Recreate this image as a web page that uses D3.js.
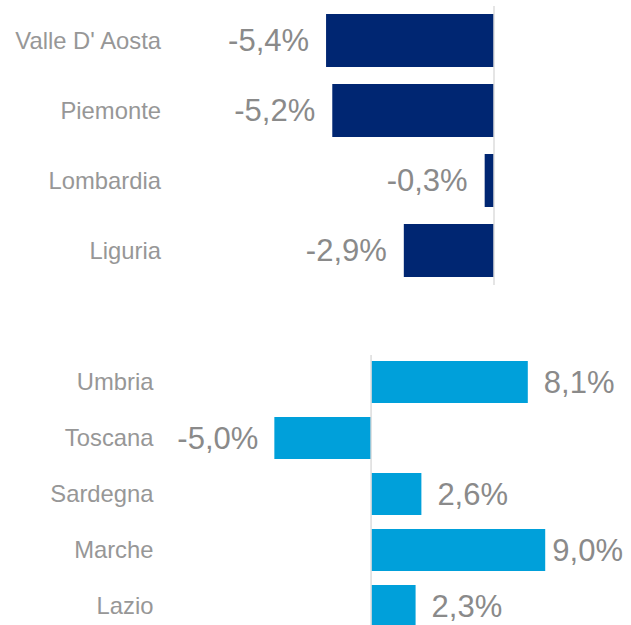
<!DOCTYPE html>
<html>
<head>
<meta charset="utf-8">
<script src="https://cdn.jsdelivr.net/npm/d3@7"></script>
<style>
  html, body { margin: 0; padding: 0; background: #fff; }
  svg { display: block; }
</style>
</head>
<body>
<div id="chart"></div>
<script>
// North-west regions (top panel)
const topRegions = ["Valle D' Aosta", 'Piemonte', 'Lombardia', 'Liguria'];
const topValues = [-5.4, -5.2, -0.3, -2.9];

// Centre regions (bottom panel)
const bottomRegions = ['Umbria', 'Toscana', 'Sardegna', 'Marche', 'Lazio'];
const bottomValues = [8.1, -5.0, 2.6, 9.0, 2.3];

const fmt = v => v.toFixed(1).replace('.', ',') + '%';

function renderChart() {
  const width = 631, height = 625;
  const font = '"Liberation Sans", Arial, sans-serif';
  const catColor = '#979797';
  const valColor = '#8a8a8a';
  const axisColor = '#dcdcdc';

  const svg = d3.select('#chart').append('svg')
    .attr('width', width)
    .attr('height', height);

  const panels = [
    {
      cats: topRegions, vals: topValues, color: '#002672',
      x: d3.scaleLinear().domain([-6, 0]).range([307.4, 494]),
      y: d3.scaleBand().domain(topRegions).range([5.5, 285.5]).paddingInner(0.243).paddingOuter(0.1215),
      labelRight: 161, axisTop: 6, axisBottom: 285, gap: 17
    },
    {
      cats: bottomRegions, vals: bottomValues, color: '#00a0da',
      x: d3.scaleLinear().domain([-6, 13]).range([255, 622.6]),
      y: d3.scaleBand().domain(bottomRegions).range([354, 634]).paddingInner(0.25).paddingOuter(0.125),
      labelRight: 153.5, axisTop: 355, axisBottom: 625, gap: 16
    }
  ];

  panels.forEach(p => {
    const g = svg.append('g');
    const x0 = p.x(0);

    p.cats.forEach((c, i) => {
      const v = p.vals[i];
      const yTop = p.y(c);
      const bh = p.y.bandwidth();
      const cy = yTop + bh / 2;

      g.append('rect')
        .attr('x', Math.min(p.x(v), x0))
        .attr('y', yTop)
        .attr('width', Math.abs(p.x(v) - x0))
        .attr('height', bh)
        .attr('fill', p.color);

      // category label
      g.append('text')
        .attr('x', p.labelRight)
        .attr('y', cy)
        .attr('dy', '0.35em')
        .attr('text-anchor', 'end')
        .attr('fill', catColor)
        .attr('font-size', '23.8px')
        .attr('font-family', font)
        .text(c);

      // value label
      const t = g.append('text')
        .attr('y', cy)
        .attr('dy', '0.35em')
        .attr('fill', valColor)
        .attr('font-size', '31px')
        .attr('font-family', font)
        .text(fmt(v));
      if (v < 0) {
        t.attr('x', p.x(v) - p.gap).attr('text-anchor', 'end');
      } else {
        let tx = p.x(v) + p.gap;
        const w = t.node().getComputedTextLength();
        if (tx + w > width - 8) tx = width - 8 - w;
        t.attr('x', tx).attr('text-anchor', 'start');
      }
    });

    // zero axis line
    g.append('line')
      .attr('x1', x0).attr('x2', x0)
      .attr('y1', p.axisTop).attr('y2', p.axisBottom)
      .attr('stroke', axisColor)
      .attr('stroke-width', 1.5);
  });
}

renderChart();
</script>
</body>
</html>
